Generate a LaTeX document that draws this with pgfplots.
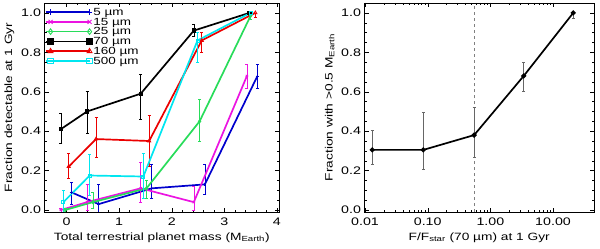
\documentclass[border=0pt]{standalone}
\usepackage{fontspec}
\setmainfont{Liberation Sans}[FakeStretch=1.3]
\usepackage{pgfplots}
\pgfplotsset{compat=1.18}
\definecolor{cblue}{RGB}{0,0,205}
\definecolor{cmag}{RGB}{235,20,225}
\definecolor{cgreen}{RGB}{40,220,90}
\definecolor{cred}{RGB}{235,0,0}
\definecolor{ccyan}{RGB}{0,230,240}
\pgfplotsset{
  common/.style={
    anchor=south west, scale only axis,
    /pgf/number format/assume math mode=true,
    tick label style={font=\fontsize{11}{12}\selectfont},
    xticklabel style={yshift=-2.5bp},
    label style={font=\fontsize{10.6}{12}\selectfont},
    major tick length=4bp, minor tick length=2bp,
    tick style={black, line width=0.4pt},
    axis line style={line width=0.6pt},
    ymin=-0.01, ymax=1.05,
    ytick={0,0.2,0.4,0.6,0.8,1.0}, minor y tick num=3,
    yticklabel style={/pgf/number format/fixed, /pgf/number format/fixed zerofill, /pgf/number format/precision=1},
    error bars/y dir=both, error bars/y explicit,
    error bars/error bar style={line width=0.55pt},
    error bars/error mark options={rotate=90, mark size=1.5bp, line width=0.55pt},
  },
  ln/.style={line width=1.7pt},
}
\begin{document}
\begin{tikzpicture}
\useasboundingbox (0bp,0bp) rectangle (600bp,249bp);
\begin{axis}[common,
  at={(44.5bp,37bp)}, width=234.5bp, height=209bp,
  xmin=-0.42, xmax=4.04, xtick={0,1,2,3,4}, minor x tick num=4,
  xlabel={Total terrestrial planet mass (M\textsubscript{Earth})},
  ylabel={Fraction detectable at 1 Gyr},
  legend style={at={(0,1)}, anchor=north west, yshift=-5.5bp, draw=none, fill=none,
    font=\fontsize{10.4}{10.4}\selectfont, row sep=3.1bp, column sep=1bp, inner sep=0pt,
    nodes={inner sep=0pt, text height=6.7bp, text depth=0bp}},
  legend cell align=left,
  legend image code/.code={
    \draw[#1, mark=none, line width=1.7pt] (0bp,0bp) -- (44bp,0bp);
    \draw[#1, only marks, mark size=2.8bp] plot coordinates {(5bp,0bp) (44bp,0bp)};},
]
\addplot[cblue, ln, mark=+, mark size=1.6bp, mark options={line width=0.9pt}] coordinates {
 (0.09,0.09) += (0,0.05) -= (0,0.06)
 (0.61,0.03) += (0,0.10) -= (0,0.05)
 (1.62,0.11) += (0,0.12) -= (0,0.05)
 (2.63,0.13) += (0,0.10) -= (0,0.05)
 (3.63,0.68) += (0,0.06) -= (0,0.06)
};
\addlegendentry{5 µm}
\addplot[cmag, ln, mark=x, mark size=1.6bp, mark options={line width=0.9pt}] coordinates {
 (-0.11,0.0) += (0,0.01) -= (0,0.01)
 (0.39,0.04) += (0,0.09) -= (0,0.04)
 (1.41,0.11) += (0,0.13) -= (0,0.07)
 (2.42,0.04) += (0,0.08) -= (0,0.04)
 (3.43,0.68) += (0,0.06) -= (0,0.06)
};
\addlegendentry{15 µm}
\addplot[cgreen, ln, mark=diamond, mark size=1.6bp, mark options={line width=0.9pt}] coordinates {
 (-0.03,0.0) += (0,0.01) -= (0,0.01)
 (0.50,0.04) += (0,0.05) -= (0,0.03)
 (1.52,0.11) += (0,0.04) -= (0,0.05)
 (2.53,0.45) += (0,0.11) -= (0,0.10)
 (3.50,0.985) += (0,0.01) -= (0,0.02)
};
\addlegendentry{25 µm}
\addplot[black, ln, mark=square*, mark size=1.3bp] coordinates {
 (-0.11,0.41) += (0,0.08) -= (0,0.07)
 (0.39,0.50) += (0,0.10) -= (0,0.11)
 (1.41,0.59) += (0,0.10) -= (0,0.13)
 (2.42,0.91) += (0,0.03) -= (0,0.03)
 (3.48,1.0) += (0,0.0) -= (0,0.01)
};
\addlegendentry{70 µm}
\addplot[cred, ln, mark=triangle, mark size=1.8bp, mark options={line width=0.9pt}] coordinates {
 (0.04,0.22) += (0,0.07) -= (0,0.06)
 (0.56,0.36) += (0,0.11) -= (0,0.09)
 (1.57,0.35) += (0,0.13) -= (0,0.13)
 (2.57,0.86) += (0,0.04) -= (0,0.06)
 (3.59,1.0) += (0,0.0) -= (0,0.02)
};
\addlegendentry{160 µm}
\addplot[ccyan, ln, mark=square, mark size=1.5bp, mark options={line width=0.9pt}] coordinates {
 (-0.06,0.04) += (0,0.06) -= (0,0.05)
 (0.44,0.175) += (0,0.11) -= (0,0.10)
 (1.46,0.17) += (0,0.12) -= (0,0.11)
 (2.49,0.86) += (0,0.04) -= (0,0.11)
 (3.50,1.0) += (0,0.0) -= (0,0.01)
};
\addlegendentry{500 µm}
\end{axis}
\begin{axis}[common,
  at={(364.5bp,37bp)}, width=229.5bp, height=209bp,
  xmode=log, xmin=0.0098, xmax=45,
  xtick={0.01,0.1,1,10}, xticklabels={0.01,0.10,1.00,10.00},
  xlabel={F/F\textsubscript{star} (70 µm) at 1 Gyr},
  ylabel={Fraction with >0.5 M\textsubscript{Earth}},
]
\addplot[gray, dashed, line width=0.4pt, forget plot] coordinates {(0.55,-0.01) (0.55,1.05)};
\addplot[black, ln, mark=*, mark size=1.6bp, error bars/error bar style={gray!80!black, line width=0.6pt}] coordinates {
 (0.013,0.305) += (0,0.10) -= (0,0.075)
 (0.085,0.305) += (0,0.19) -= (0,0.10)
 (0.55,0.38) += (0,0.14) -= (0,0.11)
 (3.4,0.68) += (0,0.07) -= (0,0.08)
 (21,1.0) += (0,0.0) -= (0,0.03)
};
\end{axis}
\end{tikzpicture}
\end{document}
